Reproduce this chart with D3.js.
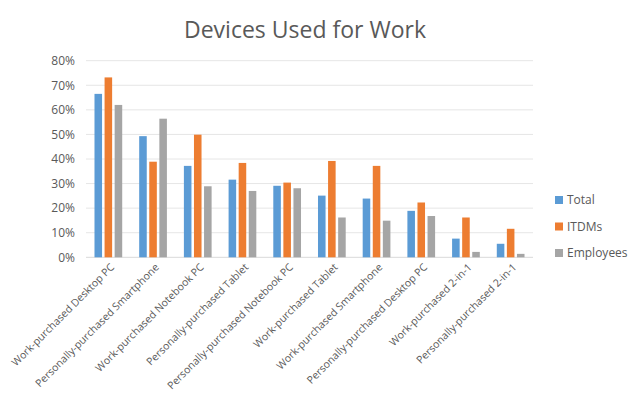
<!DOCTYPE html>
<html>
<head>
<meta charset="utf-8">
<script src="https://d3js.org/d3.v7.min.js"></script>
<style>
  body { margin: 0; background: #fff; }
  text { font-family: "Open Sans", "Noto Sans", sans-serif; fill: #595959; }
</style>
</head>
<body>
<div id="chart"></div>
<script>
  var categories = ["Work-purchased Desktop PC", "Personally-purchased Smartphone", "Work-purchased Notebook PC",
    "Personally-purchased Tablet", "Personally-purchased Notebook PC", "Work-purchased Tablet",
    "Work-purchased Smartphone", "Personally-purchased Desktop PC", "Work-purchased 2-in-1", "Personally-purchased 2-in-1"];
  var seriesNames = ["Total", "ITDMs", "Employees"];
  var totalVals = [66.5, 49.3, 37.2, 31.6, 29.1, 25.1, 23.9, 18.9, 7.6, 5.5];
  var itdmVals = [73.2, 38.9, 49.9, 38.4, 30.4, 39.2, 37.2, 22.3, 16.2, 11.6];
  var employeeVals = [62.0, 56.4, 28.9, 27.0, 28.1, 16.2, 14.9, 16.8, 2.2, 1.4];
  var yTicks = [0, 10, 20, 30, 40, 50, 60, 70, 80];
  var colors = ["#5b9bd5", "#ed7d31", "#a5a5a5"];
  var series = [totalVals, itdmVals, employeeVals];

  var width = 634, height = 411;
  var plotLeft = 86, plotRight = 533, plotTop = 60.7, plotBottom = 257.3;

  var svg = d3.select("#chart").append("svg").attr("width", width).attr("height", height);

  var x = d3.scaleBand().domain(categories).range([plotLeft, plotRight]).paddingInner(0.38).paddingOuter(0.19);
  var xs = d3.scaleBand().domain(seriesNames).range([0, x.bandwidth()]).paddingInner(0.25);
  var y = d3.scaleLinear().domain([0, 80]).range([plotBottom, plotTop]);

  svg.append("text").attr("x", 305).attr("y", 38).attr("text-anchor", "middle")
    .style("font-size", "23px").text("Devices Used for Work");

  // gridlines
  svg.append("g").selectAll("line").data(yTicks).join("line")
    .attr("x1", plotLeft).attr("x2", plotRight)
    .attr("y1", function (d) { return y(d); }).attr("y2", function (d) { return y(d); })
    .attr("stroke", function (d) { return d === 0 ? "#d9d9d9" : "#e6e6e6"; }).attr("stroke-width", 1);

  var yAxis = svg.append("g").attr("transform", "translate(" + (plotLeft - 8) + ",0)")
    .call(d3.axisLeft(y).tickValues(yTicks).tickSize(0).tickFormat(function (d) { return d + "%"; }));
  yAxis.select(".domain").remove();
  yAxis.selectAll("text").style("font-size", "12px").attr("fill", "#595959");

  series.forEach(function (vals, si) {
    svg.append("g").selectAll("rect").data(vals).join("rect")
      .attr("x", function (d, i) { return x(categories[i]) + xs(seriesNames[si]); })
      .attr("y", function (d) { return y(d); })
      .attr("width", xs.bandwidth())
      .attr("height", function (d) { return y(0) - y(d); })
      .attr("fill", colors[si]);
  });

  // rotated category labels
  svg.append("g").selectAll("text").data(categories).join("text")
    .attr("transform", function (d) {
      return "translate(" + (x(d) + x.bandwidth() / 2 + 4) + "," + (plotBottom + 8) + ") rotate(-45)";
    })
    .attr("text-anchor", "end").attr("dy", "0.35em")
    .style("font-size", "10.5px").text(function (d) { return d; });

  // legend
  var legend = svg.append("g").selectAll("g").data(seriesNames).join("g")
    .attr("transform", function (d, i) { return "translate(555," + (200 + i * 26.5) + ")"; });
  legend.append("rect").attr("x", 0).attr("y", -4).attr("width", 8).attr("height", 8)
    .attr("fill", function (d, i) { return colors[i]; });
  legend.append("text").attr("x", 12).attr("dy", "0.35em").style("font-size", "12px")
    .text(function (d) { return d; });
</script>
</body>
</html>
